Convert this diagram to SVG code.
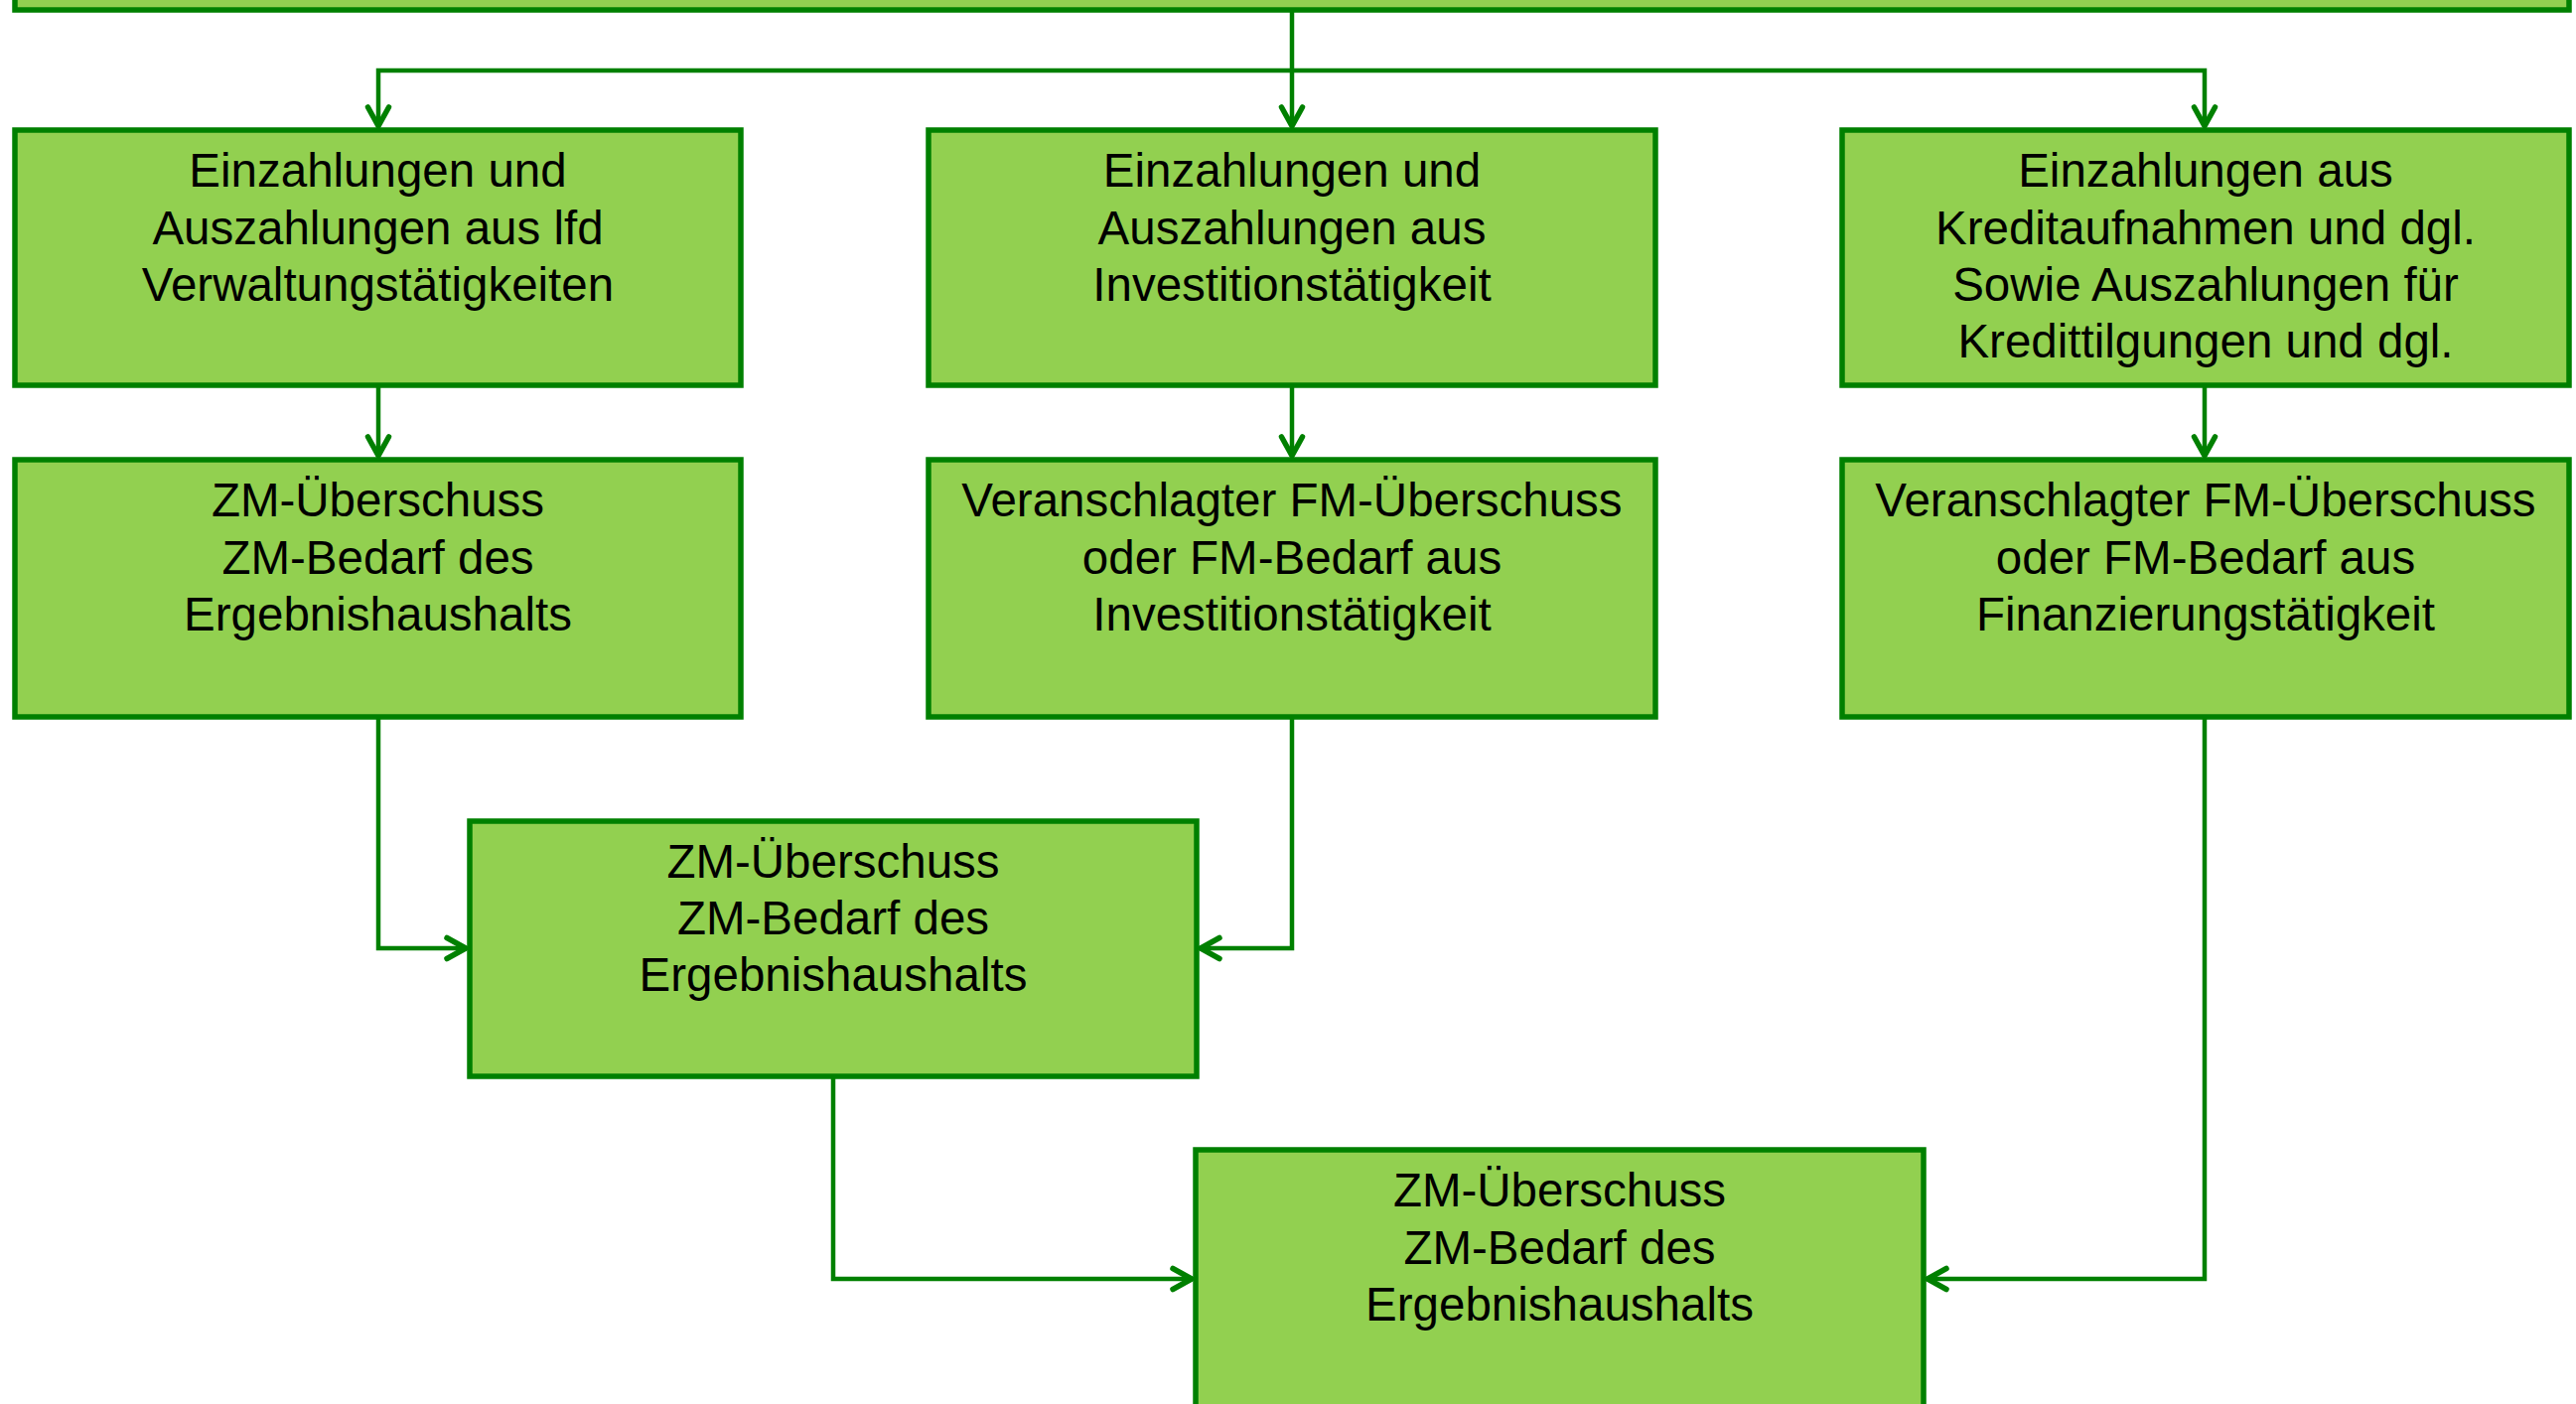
<svg xmlns="http://www.w3.org/2000/svg" width="2594" height="1414" viewBox="0 0 2594 1414">
<defs>
<style>
.box{fill:#92D050;stroke:#008000;stroke-width:5.5;stroke-linejoin:miter}
.lbl{font-family:"Liberation Sans",Arial,sans-serif;font-size:47.5px;fill:#000;text-anchor:middle}
.con{fill:none;stroke:#008000;stroke-width:4.5;stroke-linejoin:miter}
</style>
<marker id="arr" markerUnits="userSpaceOnUse" viewBox="-26 -16 30 32" refX="0" refY="0" markerWidth="30" markerHeight="32" orient="auto">
<path d="M-19,-10.5 L0,0 L-19,10.5" fill="none" stroke="#008000" stroke-width="5.5" stroke-linecap="round" stroke-linejoin="round"/>
</marker>
</defs>
<rect x="0" y="0" width="2594" height="1414" fill="#ffffff"/>
<g id="connectors">
<path class="con" d="M1301,12 V127" marker-end="url(#arr)"/>
<path class="con" d="M1301,71 H381 V127" marker-end="url(#arr)"/>
<path class="con" d="M1301,71 H2220 V127" marker-end="url(#arr)"/>
<path class="con" d="M381,390 V459" marker-end="url(#arr)"/>
<path class="con" d="M1301,390 V459" marker-end="url(#arr)"/>
<path class="con" d="M2220,390 V459" marker-end="url(#arr)"/>
<path class="con" d="M381,724 V955 H469" marker-end="url(#arr)"/>
<path class="con" d="M1301,724 V955 H1209" marker-end="url(#arr)"/>
<path class="con" d="M839,1086 V1288 H1200" marker-end="url(#arr)"/>
<path class="con" d="M2220,724 V1288 H1941" marker-end="url(#arr)"/>
</g>
<g id="top">
<rect class="box" x="15" y="-100" width="2572" height="110"/>
</g>
<g id="n1">
<rect class="box" x="15" y="131" width="731" height="257"/>
<text class="lbl"><tspan x="380.5" y="188">Einzahlungen und</tspan><tspan x="380.5" y="246">Auszahlungen aus lfd</tspan><tspan x="380.5" y="303">Verwaltungstätigkeiten</tspan></text>
</g>
<g id="n2">
<rect class="box" x="935" y="131" width="732" height="257"/>
<text class="lbl"><tspan x="1301" y="188">Einzahlungen und</tspan><tspan x="1301" y="246">Auszahlungen aus</tspan><tspan x="1301" y="303">Investitionstätigkeit</tspan></text>
</g>
<g id="n3">
<rect class="box" x="1855" y="131" width="732" height="257"/>
<text class="lbl"><tspan x="2221" y="188">Einzahlungen aus</tspan><tspan x="2221" y="246">Kreditaufnahmen und dgl.</tspan><tspan x="2221" y="303">Sowie Auszahlungen für</tspan><tspan x="2221" y="360">Kredittilgungen und dgl.</tspan></text>
</g>
<g id="n4">
<rect class="box" x="15" y="463" width="731" height="259"/>
<text class="lbl"><tspan x="380.5" y="520">ZM-Überschuss</tspan><tspan x="380.5" y="578">ZM-Bedarf des</tspan><tspan x="380.5" y="635">Ergebnishaushalts</tspan></text>
</g>
<g id="n5">
<rect class="box" x="935" y="463" width="732" height="259"/>
<text class="lbl"><tspan x="1301" y="520">Veranschlagter FM-Überschuss</tspan><tspan x="1301" y="578">oder FM-Bedarf aus</tspan><tspan x="1301" y="635">Investitionstätigkeit</tspan></text>
</g>
<g id="n6">
<rect class="box" x="1855" y="463" width="732" height="259"/>
<text class="lbl"><tspan x="2221" y="520">Veranschlagter FM-Überschuss</tspan><tspan x="2221" y="578">oder FM-Bedarf aus</tspan><tspan x="2221" y="635">Finanzierungstätigkeit</tspan></text>
</g>
<g id="n7">
<rect class="box" x="473" y="827" width="732" height="257"/>
<text class="lbl"><tspan x="839" y="884">ZM-Überschuss</tspan><tspan x="839" y="941">ZM-Bedarf des</tspan><tspan x="839" y="998">Ergebnishaushalts</tspan></text>
</g>
<g id="n8">
<rect class="box" x="1204" y="1158" width="733" height="300"/>
<text class="lbl"><tspan x="1570.5" y="1215">ZM-Überschuss</tspan><tspan x="1570.5" y="1273">ZM-Bedarf des</tspan><tspan x="1570.5" y="1330">Ergebnishaushalts</tspan></text>
</g>
</svg>
